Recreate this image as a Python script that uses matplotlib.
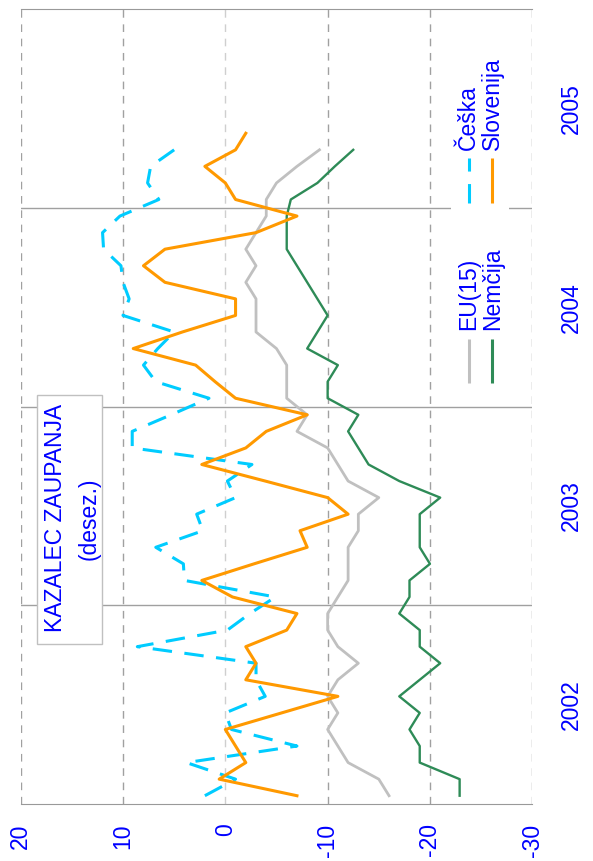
import numpy as np
import matplotlib
matplotlib.use("Agg")
import matplotlib.pyplot as plt
from matplotlib.patches import Rectangle

plt.rcParams['font.family'] = ['Liberation Sans', 'DejaVu Sans']
plt.rcParams['lines.scale_dashes'] = False

years = ['2002', '2003', '2004', '2005']
value_ticks = [20, 10, 0, -10, -20, -30]

# monthly values, Jan 2002 - Apr 2005 (Slovenija to May 2005)
eu15 = [-16, -15, -12, -11, -10, -11, -10, -11, -13, -11, -10, -10,
        -11, -12, -12, -12, -13, -13, -15, -12, -11, -10, -7, -8,
        -6, -6, -6, -5, -3, -3, -3, -2, -3, -2, -3, -4,
        -4, -5, -7, -9.2]
nemcija = [-22.9, -22.9, -19, -19, -18, -19, -17, -19, -21, -19, -19, -17,
           -18, -18, -20, -19, -19, -19, -21, -17, -14, -13, -12, -13,
           -10, -10, -11, -8, -9, -10, -9, -8, -7, -6, -6, -6,
           -6.4, -9, -10.7, -12.5]
ceska = [2.0, -1.0, 3.8, -7.0, -0.6, 0.0, -3.9, -3.0, -3.0, 8.6, -0.2, -2.4,
         -4.9, 4.0, 4.1, 6.8, 2.2, 2.8, -1.0, -0.2, -2.6, 9.1, 9.1, 5.3,
         1.6, 6.8, 8.0, 6.6, 5.0, 10.0, 9.4, 10.0, 10.2, 11.9, 12.0, 10.3,
         6.5, 7.6, 7.3, 5.0]
slovenija = [-7, 0.6, -2, -1, 0, -5.5, -11, -2, -3, -2, -6, -7,
             -0.7, 2.3, -2.8, -8, -7.3, -12, -10, -3.9, 2.3, -2, -4, -8,
             -1, 1, 2.9, 9, 4.2, -1, -1, 5.9, 8, 5.9, -3, -7,
             -1, 0, 2, -1, -2]

BLUE = '#0000ff'
GREY = '#c0c0c0'
GREEN = '#2e8b57'
CYAN = '#00ccff'
ORANGE = '#ff9900'
CYAN_DASH = (0, (14, 9))


def months(series):
    # month centres on the time axis (rotated chart: time runs upwards)
    return np.arange(len(series)) + 0.5


def main():
    fig = plt.figure(figsize=(5.93, 8.61), dpi=100)
    ax = fig.add_axes([0.0349, 0.0662, 0.8627, 0.9233])
    ax.set_xlim(20, -30)
    ax.set_ylim(0, 48)

    # grid
    for v in value_ticks:
        ax.axvline(v, color='#cfcfcf' if v == 0 else '#a0a0a0', lw=1,
                   ls=(0, (5.5, 4.8)), zorder=1)
    for m in [12, 24, 36]:
        ax.axhline(m, color='#a0a0a0', lw=1, zorder=1)
    for side in ['left', 'right']:
        ax.spines[side].set_visible(False)
    for side in ['top', 'bottom']:
        ax.spines[side].set_color('#999999')

    # series
    ax.plot(eu15, months(eu15), color=GREY, lw=2.0, zorder=4)
    ax.plot(nemcija, months(nemcija), color=GREEN, lw=1.7, zorder=4)
    ax.plot(ceska, months(ceska), color=CYAN, lw=2.2, ls=CYAN_DASH, zorder=4)
    ax.plot(slovenija, months(slovenija), color=ORANGE, lw=2.2, zorder=5)

    # legend, drawn by hand since the text is rotated
    ax.add_patch(Rectangle((-27.7, 24.8), 5.6, 21.2, facecolor='white',
                           edgecolor='none', zorder=2))
    entries = [(-23.8, 25.4, GREY, '-', 'EU(15)'),
               (-26.1, 25.4, GREEN, '-', 'Nemčija'),
               (-23.8, 36.3, CYAN, CYAN_DASH, 'Češka'),
               (-26.1, 36.3, ORANGE, '-', 'Slovenija')]
    for v, m0, col, ls, name in entries:
        ax.plot([v, v], [m0, m0 + 2.7], color=col, lw=2.2, ls=ls, zorder=3,
                solid_capstyle='butt')
        ax.text(v, m0 + 3.2, name, rotation=90, ha='center', va='bottom',
                color=BLUE, fontsize=16.5, zorder=3)

    # title box
    ax.add_patch(Rectangle((12.1, 9.66), 6.3, 15.05, facecolor='white',
                           edgecolor='#c0c0c0', lw=1, zorder=3))
    ax.text(16.6, 17.25, 'KAZALEC ZAUPANJA', rotation=90, ha='center',
            va='center', color=BLUE, fontsize=16.5, zorder=4)
    ax.text(13.3, 17.25, '(desez.)', rotation=90, ha='center',
            va='center', color=BLUE, fontsize=16.5, zorder=4)

    # ticks
    ax.set_xticks(value_ticks)
    ax.set_xticklabels([str(v) for v in value_ticks], rotation=90)
    ax.set_yticks([6, 18, 30, 42])
    ax.set_yticklabels(years, rotation=90, va='center')
    ax.yaxis.tick_right()
    ax.tick_params(axis='x', length=0, pad=14, labelcolor=BLUE, labelsize=16.5)
    ax.tick_params(axis='y', length=0, pad=20, labelcolor=BLUE, labelsize=16.5)

    fig.savefig('out.png', dpi=100)


if __name__ == "__main__":
    main()
